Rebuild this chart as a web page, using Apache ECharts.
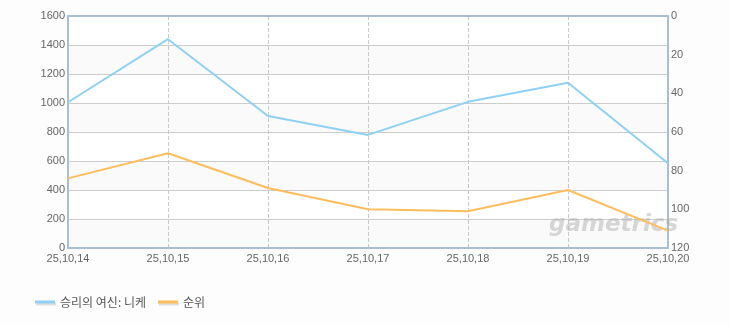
<!DOCTYPE html>
<html><head><meta charset="utf-8">
<script src="https://cdn.jsdelivr.net/npm/echarts@6/dist/echarts.min.js"></script>
<style>html,body{margin:0;padding:0;background:#fdfdfd}#c{width:730px;height:325px}</style>
</head><body><div id="c"></div>
<script>
const categories = ['25,10,14','25,10,15','25,10,16','25,10,17','25,10,18','25,10,19','25,10,20'];
const seriesNames = ['승리의 여신: 니케', '순위'];
const salesValues = [1005, 1440, 910, 780, 1008, 1140, 584];
const rankValues = [84, 71, 89, 100, 101, 90, 111];
const leftTicks = {min: 0, max: 1600, interval: 200};
const rightTicks = {min: 0, max: 120, interval: 20};

const chart = echarts.init(document.getElementById('c'));
const lblFont = {color: '#666', fontSize: 11, fontFamily: 'Liberation Sans, Arial, sans-serif'};
const border = {show: true, lineStyle: {color: '#a9bdd3', width: 2}};
chart.setOption({
  backgroundColor: '#fdfdfd',
  animation: false,
  grid: {left: 68, right: 62, top: 16, bottom: 77},
  legend: {
    left: 30, top: 291, itemWidth: 20, itemHeight: 3, itemGap: 12, icon: 'rect',
    textStyle: {color: '#555', fontSize: 12, fontFamily: 'Noto Sans CJK KR, sans-serif'},
    itemStyle: {shadowColor: 'rgba(0,0,0,0.12)', shadowOffsetY: 2, shadowOffsetX: 1, shadowBlur: 0},
    data: seriesNames
  },
  xAxis: [{
    type: 'category', data: categories, boundaryGap: false, position: 'bottom',
    axisLine: border, axisTick: {show: false},
    axisLabel: Object.assign({margin: 5, interval: 0}, lblFont),
    splitLine: {show: true, lineStyle: {color: '#c8c8c8', type: 'dashed'}}
  }, {
    type: 'category', data: categories, boundaryGap: false, position: 'top',
    axisLine: border, axisTick: {show: false}, axisLabel: {show: false}, splitLine: {show: false}
  }],
  yAxis: [{
    type: 'value', min: leftTicks.min, max: leftTicks.max, interval: leftTicks.interval,
    axisLine: border, axisTick: {show: false},
    axisLabel: Object.assign({margin: 3, formatter: v => String(v)}, lblFont),
    splitLine: {lineStyle: {color: '#cccccc'}},
    splitArea: {show: true, areaStyle: {color: ['#fafafa', '#ffffff']}}
  }, {
    type: 'value', inverse: true, min: rightTicks.min, max: rightTicks.max, interval: rightTicks.interval,
    axisLine: border, axisTick: {show: false},
    axisLabel: Object.assign({margin: 3, formatter: v => String(v)}, lblFont),
    splitLine: {show: false}
  }],
  graphic: [{
    type: 'text', left: 549, top: 214, z: 1,
    style: {text: 'gametrics', fill: 'rgba(175,175,175,0.5)', font: 'italic bold 23px DejaVu Sans, sans-serif'}
  }],
  series: [{
    name: seriesNames[0], type: 'line', data: salesValues, yAxisIndex: 0,
    showSymbol: false, symbol: 'none', color: '#90d0f2', lineStyle: {width: 2, color: '#90d0f2'}, z: 3
  }, {
    name: seriesNames[1], type: 'line', data: rankValues, yAxisIndex: 1,
    showSymbol: false, symbol: 'none', color: '#fdbd5e', lineStyle: {width: 2, color: '#fdbd5e'}, z: 3
  }]
});
</script></body></html>
